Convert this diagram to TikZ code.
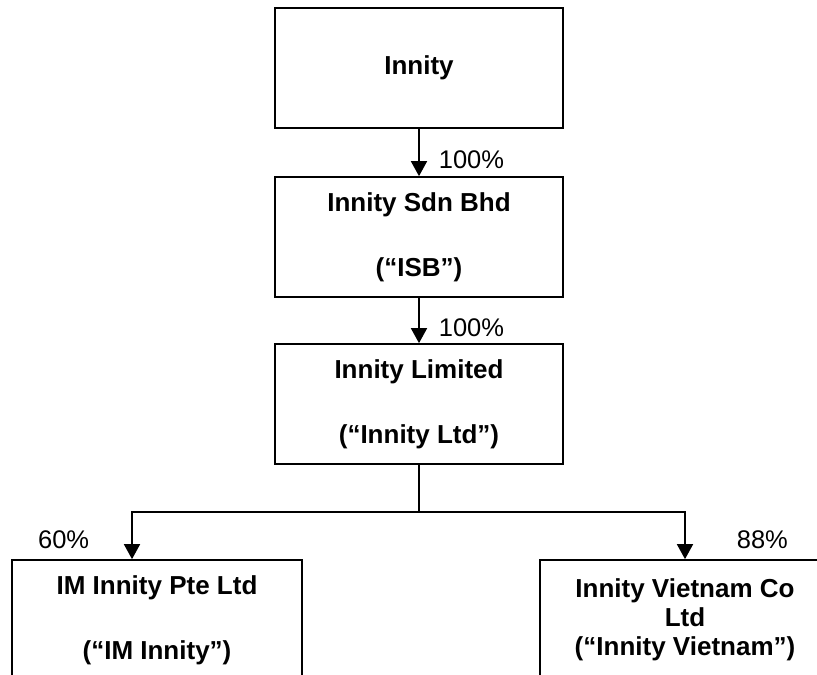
\documentclass[tikz,border=0pt]{standalone}
\usepackage{fontspec}
\setmainfont{Liberation Sans}
\usetikzlibrary{arrows.meta,positioning}
\begin{document}
\begin{tikzpicture}[x=1pt, y=-1pt,
    box/.style={draw, line width=1.7pt, minimum width=288pt, minimum height=120pt,
      inner sep=0pt, align=center, font=\fontsize{26}{29}\selectfont\bfseries},
    pct/.style={inner sep=0pt, font=\fontsize{25.5}{29}\selectfont},
    link/.style={line width=1.7pt},
    arr/.style={link, -{Triangle[width=16pt,length=15pt]}}]
    % PAGE FRAME
    \useasboundingbox (0,0) rectangle (817,675);
    \clip (0,0) rectangle (817,675);

    % COMPANY BOXES
    \node[box] (innity) at (419,68) {Innity};
    \node[box] (isb) at (419,237) {Innity Sdn Bhd\\[36pt](“ISB”)};
    \node[box] (ltd) at (419,404) {Innity Limited\\[36pt](“Innity Ltd”)};
    \node[box, minimum width=290pt] (imi) at (157,620) {IM Innity Pte Ltd\\[36pt](“IM Innity”)};
    \node[box, minimum width=290pt] (vietnam) at (685,620) {Innity Vietnam Co\\Ltd\\(“Innity Vietnam”)};

    % HOLDINGS
    \draw[arr] (innity) -- (isb) node[pct, pos=0.65, right=19pt] {100\%};
    \draw[arr] (isb) -- (ltd) node[pct, pos=0.65, right=19pt] {100\%};
    \coordinate (split) at (419,512);
    \draw[link] (ltd) -- (split);
    \draw[arr] (split) -| ([xshift=-25pt]imi.north) node[pct, pos=0.79, left=42pt] {60\%};
    \draw[arr] (split) -| (vietnam.north) node[pct, pos=0.79, right=51pt] {88\%};
\end{tikzpicture}
\end{document}
